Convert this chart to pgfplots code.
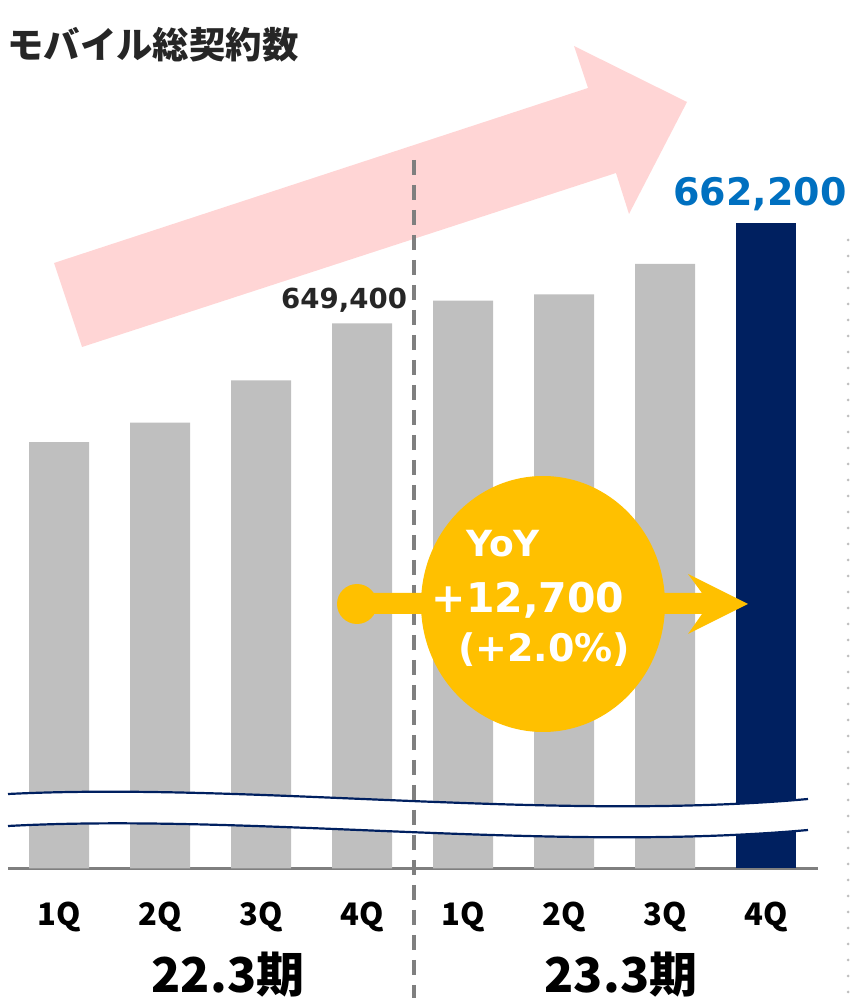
\documentclass[border=0pt]{standalone}
\usepackage{fontspec}
\setmainfont{DejaVu Sans}
\newfontfamily\jp{Noto Sans CJK JP}
\usepackage{pgfplots}
\pgfplotsset{compat=1.18}

\definecolor{barGray}{HTML}{BFBFBF}
\definecolor{navy}{HTML}{002060}
\definecolor{labelBlue}{HTML}{0070C0}
\definecolor{gold}{HTML}{FFC000}
\definecolor{pinkArrow}{HTML}{FFD5D5}
\definecolor{textDark}{HTML}{262626}
\definecolor{lineGray}{HTML}{7F7F7F}

\begin{document}
\begin{tikzpicture}[x=0.5pt,y=0.5pt]
\useasboundingbox (0,0) rectangle (850,998);

% everything outside the axis is placed in pixel units measured from the top
\begin{scope}[yshift=499pt, yscale=-1]
% title
\node[anchor=base west, inner sep=0pt, text=textDark,
      font=\jp\bfseries\fontsize{18.2pt}{18.2pt}\selectfont] at (7,59) {モバイル総契約数};
% big pink trend arrow
\fill[pinkArrow] (54,263) -- (588,88) -- (574,46) -- (687,102)
  -- (629,214) -- (616,173) -- (82,347) -- cycle;
\end{scope}

\begin{axis}[
    at={(8,166)}, anchor=south west,
    scale only axis, width=405pt, height=334pt,
    xmin=-0.505, xmax=7.515,
    ymin=579640, ymax=665144,
    axis x line*=bottom, axis y line=none,
    axis line style={draw=lineGray, line width=1.5pt},
    clip mode=individual,
    ybar, bar width=30pt,
    xtick={0,...,7},
    xticklabels={1Q,2Q,3Q,4Q,1Q,2Q,3Q,4Q},
    major tick length=0pt,
    xticklabel style={anchor=base, yshift=-28.5pt, inner sep=0pt,
        text=black, font=\jp\bfseries\fontsize{15.5pt}{15.5pt}\selectfont},
]
\addplot[fill=barGray, draw=none, bar shift=0pt] coordinates {
    (0,634200) (1,636700) (2,642100) (3,649400)
    (4,652300) (5,653100) (6,657000)
};
\addplot[fill=navy, draw=none, bar shift=0pt] coordinates {
    (7,662200)
};
\node[anchor=base, inner sep=0pt, text=textDark, xshift=-9pt, yshift=7.5pt,
      font=\bfseries\fontsize{13.8pt}{13.8pt}\selectfont]
      at (axis cs:3,649400) {649,400};
\node[anchor=base, inner sep=0pt, text=labelBlue, xshift=-3pt, yshift=9pt,
      font=\bfseries\fontsize{19pt}{19pt}\selectfont]
      at (axis cs:7,662200) {662,200};
\end{axis}

\begin{scope}[yshift=499pt, yscale=-1]
% axis break band
\fill[white] (8,794) .. controls (250,782) and (550,822) .. (808,799)
  -- (808,830) .. controls (550,853) and (250,813) .. (8,826) -- cycle;
\draw[navy, line width=1.1pt] (8,794) .. controls (250,782) and (550,822) .. (808,799);
\draw[navy, line width=1.1pt] (8,826) .. controls (250,813) and (550,853) .. (808,830);

% period divider
\draw[lineGray, line width=2pt, dash pattern=on 7.5pt off 5pt] (414,160) -- (414,998);

% dotted right edge
\draw[barGray, line width=1.5pt, line cap=round, dash pattern=on 0pt off 8pt] (848,240) -- (848,998);

% period labels
\node[anchor=base, inner sep=0pt, text=black,
      font=\jp\bfseries\fontsize{24pt}{24pt}\selectfont] at (228,993) {22.3期};
\node[anchor=base, inner sep=0pt, text=black,
      font=\jp\bfseries\fontsize{24pt}{24pt}\selectfont] at (621,993) {23.3期};

% YoY bubble and arrow
\fill[gold] (357,604) circle[radius=20];
\fill[gold] (357,593) -- (702,593) -- (688,574) -- (748,604)
  -- (688,634) -- (702,614) -- (357,614) -- cycle;
\fill[gold] (543,604) ellipse[x radius=122, y radius=128];
\node[anchor=base, inner sep=0pt, text=white,
      font=\bfseries\fontsize{18pt}{18pt}\selectfont] at (503,557) {YoY};
\node[anchor=base, inner sep=0pt, text=white,
      font=\bfseries\fontsize{20.5pt}{20.5pt}\selectfont] at (528,613) {+12,700};
\node[anchor=base, inner sep=0pt, text=white,
      font=\bfseries\fontsize{19pt}{19pt}\selectfont] at (544,662) {(+2.0\%)};
\end{scope}
\end{tikzpicture}
\end{document}
